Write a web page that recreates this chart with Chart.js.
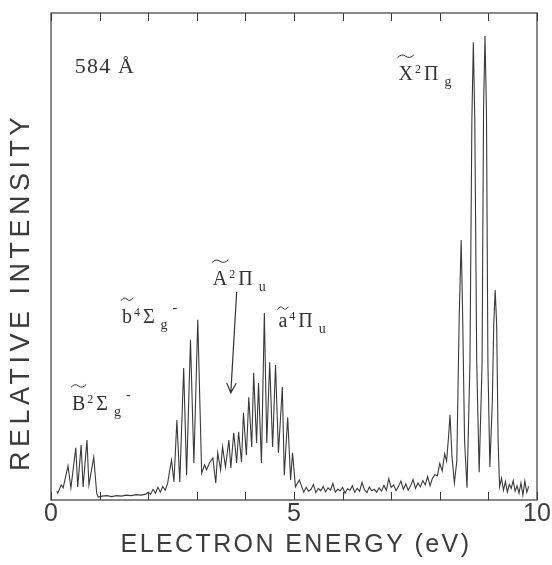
<!DOCTYPE html>
<html>
<head>
<meta charset="utf-8">
<script src="https://cdn.jsdelivr.net/npm/chart.js@4.4.0/dist/chart.umd.min.js"></script>
<style>
html, body { margin: 0; padding: 0; background: #fff; }
canvas { display: block; }
</style>
</head>
<body>
<canvas id="spec" width="552" height="565"></canvas>
<script>
// electron energy (eV) / relative intensity
var bandB_E = [0.12, 0.14, 0.21, 0.25, 0.35, 0.41, 0.51, 0.55, 0.62, 0.66, 0.74, 0.78, 0.88, 0.94, 0.97,
	1.05, 1.15, 1.25, 1.35, 1.45, 1.55, 1.65, 1.75, 1.85, 1.95, 2.0, 2.05, 2.1, 2.15, 2.2, 2.25, 2.3, 2.35, 2.4];
var bandB_I = [1.8, 1.4, 3.1, 2.5, 7.0, 2.5, 10.7, 2.7, 11.3, 2.7, 12.3, 3.1, 8.8, 1.4, 0.6,
	0.8, 0.9, 0.7, 0.9, 0.8, 1.0, 0.9, 1.1, 1.0, 1.2, 1.6, 1.2, 2.2, 1.4, 2.6, 1.6, 2.8, 2.0, 3.4];

var bandb_E = [2.44, 2.48, 2.53, 2.59, 2.65, 2.73, 2.79, 2.87, 2.94, 3.02, 3.10];
var bandb_I = [6.0, 8.2, 3.7, 16.4, 3.7, 27.1, 5.1, 32.9, 7.6, 37.0, 5.5];

var bandA_E = [3.16, 3.20, 3.26, 3.33, 3.39, 3.43, 3.49, 3.53, 3.59, 3.66, 3.70, 3.76, 3.82, 3.86, 3.92,
	3.96, 4.02, 4.07, 4.13, 4.17, 4.23, 4.27, 4.33, 4.39, 4.44, 4.50, 4.56, 4.62, 4.68, 4.76,
	4.80, 4.87, 4.93, 4.97, 5.03, 5.11];
var bandA_I = [7.2, 6.2, 7.6, 8.6, 3.5, 9.7, 6.2, 10.9, 6.8, 12.3, 6.6, 13.8, 7.6, 14.0, 7.8,
	17.9, 9.2, 21.1, 10.9, 26.1, 11.7, 24.0, 7.6, 38.4, 11.7, 28.3, 10.9, 27.7, 9.7, 23.2,
	5.1, 17.0, 4.1, 9.7, 2.7, 4.1];

var gap_E = [5.15, 5.2, 5.25, 5.3, 5.35, 5.4, 5.45, 5.5, 5.55, 5.6, 5.65, 5.7, 5.75, 5.8, 5.85, 5.9, 5.95, 6.0, 6.05, 6.1,
	6.15, 6.2, 6.25, 6.3, 6.35, 6.4, 6.45, 6.5, 6.55, 6.6, 6.65, 6.7, 6.75, 6.8, 6.85, 6.9, 6.95, 7.0, 7.05, 7.1,
	7.15, 7.2, 7.25, 7.3, 7.35, 7.4, 7.45, 7.5, 7.55, 7.6, 7.65, 7.7, 7.75, 7.8, 7.85, 7.9];
var gap_I = [3.0, 1.6, 2.6, 1.8, 2.2, 3.2, 1.5, 2.4, 1.9, 2.8, 1.7, 2.5, 2.0, 3.4, 1.6, 2.2, 1.9, 2.6, 1.4, 2.3,
	2.0, 2.9, 1.6, 2.4, 1.8, 3.6, 2.1, 1.5, 2.7, 1.9, 2.2, 1.6, 2.5, 1.8, 3.0, 2.0, 4.4, 2.6, 3.1, 1.9,
	2.8, 3.9, 2.2, 3.3, 2.0, 2.9, 4.2, 2.4, 3.5, 2.7, 4.0, 3.1, 4.8, 2.9, 4.5, 5.2];

var bandX_E = [7.95, 8.0, 8.05, 8.1, 8.14, 8.18, 8.21, 8.25, 8.30, 8.35, 8.40, 8.44, 8.47, 8.51, 8.56,
	8.62, 8.66, 8.69, 8.72, 8.76, 8.81, 8.87, 8.90, 8.93, 8.96, 8.99, 9.03, 9.08, 9.11, 9.14,
	9.17, 9.20, 9.23];
var bandX_I = [5.0, 7.5, 6.0, 9.5, 8.0, 13, 17.5, 9, 3.5, 8, 38, 53.4, 38, 12, 2.5,
	28, 78, 94.0, 78, 28, 5.7, 28, 80, 95.3, 80, 28, 6.8, 20, 36, 43.1,
	36, 12, 2.7];

var tail_E = [9.27, 9.31, 9.35, 9.39, 9.43, 9.47, 9.51, 9.55, 9.59, 9.63, 9.67, 9.71, 9.75, 9.79, 9.83];
var tail_I = [4.5, 2.0, 3.8, 1.6, 3.2, 2.4, 4.0, 1.8, 2.9, 1.4, 3.5, 1.0, 3.9, 1.6, 2.8];

var tickValues = [0, 1, 2, 3, 4, 5, 6, 7, 8, 9, 10];
var tickLabels = ['0', '5', '10'];

// band labels: letter with tilde, superscript, greek letter, subscript, optional minus
var bandLabels = [
	{base: 'B', sup: '2', greek: 'Σ', sub: 'g', minus: true, e: 0.43, i: 18.5},
	{base: 'b', sup: '4', greek: 'Σ', sub: 'g', minus: true, e: 1.46, i: 36.3},
	{base: 'A', sup: '2', greek: 'Π', sub: 'u', minus: false, e: 3.33, i: 44.1},
	{base: 'a', sup: '4', greek: 'Π', sub: 'u', minus: false, e: 4.68, i: 35.5},
	{base: 'X', sup: '2', greek: 'Π', sub: 'g', minus: false, e: 7.15, i: 86.2}
];

function toPoints(es, is) {
	var out = [];
	for (var i = 0; i < es.length; i++) {
		out.push({x: es[i], y: is[i]});
	}
	return out;
}

var points = [].concat(
	toPoints(bandB_E, bandB_I),
	toPoints(bandb_E, bandb_I),
	toPoints(bandA_E, bandA_I),
	toPoints(gap_E, gap_I),
	toPoints(bandX_E, bandX_I),
	toPoints(tail_E, tail_I)
);

var sans = '"Liberation Sans", Arial, sans-serif';
var serif = '"Liberation Serif", "Times New Roman", serif';

function drawTilde(ctx, x0, y, w) {
	ctx.beginPath();
	ctx.moveTo(x0, y + 1.5);
	ctx.quadraticCurveTo(x0 + w * 0.25, y - 3, x0 + w * 0.5, y);
	ctx.quadraticCurveTo(x0 + w * 0.75, y + 3, x0 + w, y - 1.5);
	ctx.stroke();
}

function drawBandLabel(ctx, lab, x, y) {
	ctx.textAlign = 'left';
	ctx.textBaseline = 'alphabetic';
	ctx.font = '20px ' + serif;
	var w = ctx.measureText(lab.base).width;
	ctx.fillText(lab.base, x, y);
	var lift = lab.base === 'a' ? 19 : 24;
	drawTilde(ctx, x - 1, y - lift, w + 2);
	var cx = x + w + 2;
	ctx.font = '12px ' + serif;
	ctx.fillText(lab.sup, cx, y - 7);
	cx += ctx.measureText(lab.sup).width + 3;
	ctx.font = '20px ' + serif;
	ctx.fillText(lab.greek, cx, y);
	cx += ctx.measureText(lab.greek).width + 6;
	ctx.font = '14px ' + serif;
	ctx.fillText(lab.sub, cx, y + 6);
	cx += ctx.measureText(lab.sub).width + 5;
	if (lab.minus) {
		ctx.font = '14px ' + serif;
		ctx.fillText('-', cx, y - 11);
	}
}

var framePlugin = {
	id: 'frame',
	afterDraw: function(chart) {
		var ctx = chart.ctx, a = chart.chartArea;
		var xs = chart.scales.x, ys = chart.scales.y;
		ctx.save();
		ctx.strokeStyle = '#3a3a3a';
		ctx.lineWidth = 1.2;
		ctx.strokeRect(a.left, a.top, a.right - a.left, a.bottom - a.top);

		ctx.lineWidth = 1;
		ctx.beginPath();
		tickValues.forEach(function(v) {
			var px = Math.round(xs.getPixelForValue(v)) + 0.5;
			ctx.moveTo(px, a.bottom);
			ctx.lineTo(px, a.bottom - 8);
			ctx.moveTo(px, a.top);
			ctx.lineTo(px, a.top + 8);
		});
		ctx.stroke();

		ctx.fillStyle = '#3c3c3c';
		ctx.font = '25px ' + sans;
		ctx.textAlign = 'center';
		ctx.textBaseline = 'middle';
		tickLabels.forEach(function(t) {
			ctx.fillText(t, xs.getPixelForValue(parseFloat(t)), a.bottom + 14);
		});

		ctx.font = '25px ' + sans;
		ctx.letterSpacing = '2.4px';
		ctx.fillText('ELECTRON ENERGY (eV)', (a.left + a.right) / 2 + 2, a.bottom + 45);
		ctx.save();
		ctx.translate(22, 292);
		ctx.rotate(-Math.PI / 2);
		ctx.font = '27px ' + sans;
		ctx.letterSpacing = '4.5px';
		ctx.fillText('RELATIVE INTENSITY', 0, 0);
		ctx.restore();
		ctx.letterSpacing = '1.2px';

		ctx.fillStyle = '#333';
		ctx.strokeStyle = '#333';
		ctx.font = '22px ' + serif;
		ctx.textAlign = 'left';
		ctx.textBaseline = 'alphabetic';
		ctx.fillText('584 Å', xs.getPixelForValue(0.49), ys.getPixelForValue(87.7));
		ctx.letterSpacing = '0px';

		bandLabels.forEach(function(lab) {
			drawBandLabel(ctx, lab, xs.getPixelForValue(lab.e), ys.getPixelForValue(lab.i));
		});

		// arrow pointing at the A state onset
		var x1 = xs.getPixelForValue(3.82), y1 = ys.getPixelForValue(42.7);
		var x2 = xs.getPixelForValue(3.70), y2 = ys.getPixelForValue(22.0);
		var ang = Math.atan2(y2 - y1, x2 - x1);
		ctx.lineWidth = 1.2;
		ctx.beginPath();
		ctx.moveTo(x1, y1);
		ctx.lineTo(x2, y2);
		ctx.moveTo(x2 - 11 * Math.cos(ang - 0.45), y2 - 11 * Math.sin(ang - 0.45));
		ctx.lineTo(x2, y2);
		ctx.lineTo(x2 - 11 * Math.cos(ang + 0.45), y2 - 11 * Math.sin(ang + 0.45));
		ctx.stroke();
		ctx.restore();
	}
};

var chart = new Chart(document.getElementById('spec').getContext('2d'), {
	type: 'scatter',
	data: {
		datasets: [{
			data: points,
			showLine: true,
			borderColor: '#3a3a3a',
			borderWidth: 1.1,
			pointRadius: 0,
			tension: 0
		}]
	},
	options: {
		responsive: false,
		animation: false,
		layout: {padding: {left: 51, right: 15, top: 13, bottom: 65}},
		plugins: {legend: {display: false}, tooltip: {enabled: false}},
		scales: {
			x: {type: 'linear', min: 0, max: 10, display: false},
			y: {type: 'linear', min: 0, max: 100, display: false}
		}
	},
	plugins: [framePlugin]
});
</script>
</body>
</html>
